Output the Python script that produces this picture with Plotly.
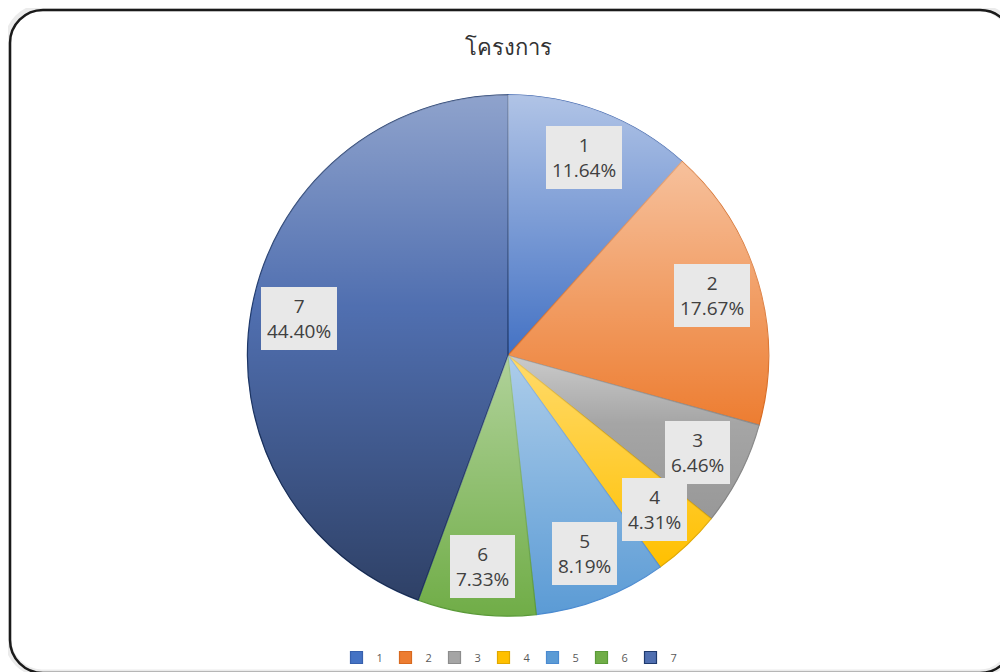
import base64, math
import plotly.graph_objects as go

# ---- data ----
categories = ["1", "2", "3", "4", "5", "6", "7"]
values = [11.64, 17.67, 6.46, 4.31, 8.19, 7.33, 44.40]
pct_labels = ["11.64%", "17.67%", "6.46%", "4.31%", "8.19%", "7.33%", "44.40%"]
title_text = "โครงการ"

# ---- style ----
fill_colors = ["#4472c4", "#ed7d31", "#a5a5a5", "#ffc000", "#5b9bd5", "#70ad47", "#506fb0"]
line_colors = ["#3760ad", "#d8691f", "#8c8c8c", "#e0a800", "#4a8ad0", "#5a9a38", "#1f3a6e"]
shade_top = [0.58, 0.52, 0.42, 0.42, 0.50, 0.45, 0.36]   # white at top of each slice
shade_bot = [0.0, 0.0, 0.08, 0.0, 0.0, 0.0, 0.42]        # black at bottom of each slice

OFF = 8                     # page body margin
W, H = 1000, 664            # figure size (page 1008x672 minus margin)
CX, CY, R = 508 - OFF, 356 - OFF, 261
LABEL_RF = 0.815

def px(x):
    return x / W

def py(y):
    return 1 - y / H

fig = go.Figure()
fig.add_trace(go.Pie(
    labels=categories, values=values, sort=False, direction="clockwise", rotation=0,
    marker=dict(colors=fill_colors, line=dict(color=line_colors, width=1.2)),
    textinfo="none", hoverinfo="label+percent",
    domain=dict(x=[px(CX - R), px(CX + R)], y=[py(CY + R), py(CY - R)]),
))

# labels with gray boxes along each slice's mid angle; shading wedges for gradient look
total = sum(values)
cum = 0.0
annotations = []
defs = []
wedges = []
for i, (cat, v, p) in enumerate(zip(categories, values, pct_labels)):
    a0 = 2 * math.pi * cum / total
    a1 = 2 * math.pi * (cum + v) / total
    th = (a0 + a1) / 2
    cum += v
    dx = R * LABEL_RF * math.sin(th)
    dy = -R * LABEL_RF * math.cos(th)
    annotations.append(dict(
        x=px(CX + dx), y=py(CY + dy), xref="paper", yref="paper",
        xanchor="center", yanchor="middle",
        text=f"{cat}<br>{p}", showarrow=False, align="center",
        font=dict(family="Open Sans, sans-serif", size=19, color="#404040"),
        bgcolor="#e8e8e8", borderpad=6, borderwidth=0,
    ))
    # shading overlay wedge (same geometry as the slice)
    c = R
    x0, y0 = c + R * math.sin(a0), c - R * math.cos(a0)
    x1, y1 = c + R * math.sin(a1), c - R * math.cos(a1)
    large = 1 if (a1 - a0) > math.pi else 0
    if shade_bot[i] == 0:
        stops = (f'<stop offset="0" stop-color="#fff" stop-opacity="{shade_top[i]}"/>'
                 f'<stop offset="1" stop-color="#fff" stop-opacity="0"/>')
    else:
        stops = (f'<stop offset="0" stop-color="#fff" stop-opacity="{shade_top[i]}"/>'
                 f'<stop offset="0.42" stop-color="#fff" stop-opacity="0"/>'
                 f'<stop offset="0.42" stop-color="#000" stop-opacity="0"/>'
                 f'<stop offset="1" stop-color="#000" stop-opacity="{shade_bot[i]}"/>')
    defs.append(f'<linearGradient id="g{i}" x1="0" y1="0" x2="0" y2="1">{stops}</linearGradient>')
    wedges.append(f'<path d="M {c} {c} L {x0:.3f} {y0:.3f} A {R} {R} 0 {large} 1 {x1:.3f} {y1:.3f} Z" '
                  f'fill="url(#g{i})"/>')

svg = (f'<svg xmlns="http://www.w3.org/2000/svg" width="{2*R}" height="{2*R}" '
       f'viewBox="0 0 {2*R} {2*R}" preserveAspectRatio="none"><defs>{"".join(defs)}</defs>'
       f'{"".join(wedges)}</svg>')
src = "data:image/svg+xml;base64," + base64.b64encode(svg.encode()).decode()

# rounded frame (page coordinates)
def frame_path(l, t, r, b, rad):
    k = 0.5523 * rad
    def P(x, y):
        return f"{px(x - OFF):.5f},{py(y - OFF):.5f}"
    return (f"M {P(l + rad, t)} L {P(r - rad, t)} C {P(r - rad + k, t)} {P(r, t + rad - k)} {P(r, t + rad)} "
            f"L {P(r, b - rad)} C {P(r, b - rad + k)} {P(r - rad + k, b)} {P(r - rad, b)} "
            f"L {P(l + rad, b)} C {P(l + rad - k, b)} {P(l, b - rad + k)} {P(l, b - rad)} "
            f"L {P(l, t + rad)} C {P(l, t + rad - k)} {P(l + rad - k, t)} {P(l + rad, t)} Z")

shapes = [
    dict(type="path", xref="paper", yref="paper", path=frame_path(8, 8, 1013, 674, 34),
         line=dict(color="rgba(0,0,0,0.08)", width=7), layer="below"),
    dict(type="path", xref="paper", yref="paper", path=frame_path(10, 10, 1013, 674, 33),
         line=dict(color="#1a1a1a", width=2.5), layer="below"),
]

fig.update_layout(
    width=W, height=H,
    margin=dict(l=0, r=0, t=0, b=0),
    paper_bgcolor="white", plot_bgcolor="white",
    title=dict(text=title_text, x=px(CX), xanchor="center", y=py(47 - OFF), yanchor="middle",
               yref="container", xref="paper",
               font=dict(family="Noto Sans, DejaVu Sans, sans-serif", size=22, color="#333333")),
    legend=dict(orientation="h", x=px(CX), xanchor="center", y=py(658 - OFF), yanchor="middle",
                font=dict(family="Open Sans, sans-serif", size=11, color="#595959"),
                itemwidth=30, entrywidth=4, traceorder="normal", bgcolor="rgba(0,0,0,0)"),
    annotations=annotations,
    shapes=shapes,
    images=[dict(source=src, xref="paper", yref="paper", x=px(CX - R), y=py(CY - R),
                 sizex=2 * R / W, sizey=2 * R / H, xanchor="left", yanchor="top",
                 sizing="stretch", layer="above")],
)

fig.write_html("out.html")
